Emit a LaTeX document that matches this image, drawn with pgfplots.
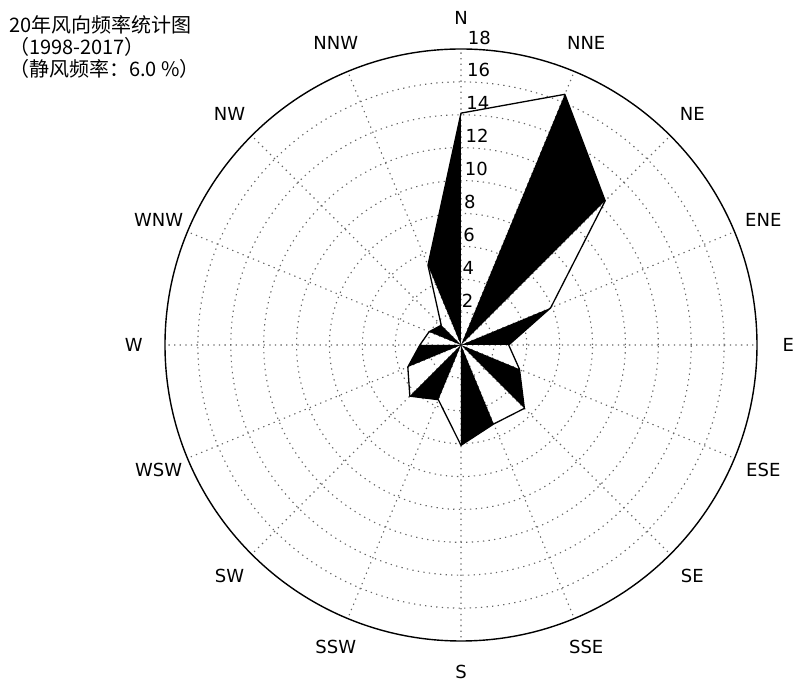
\documentclass[border=0pt]{standalone}
\usepackage{fontspec}
\setmainfont{DejaVu Sans}
\newfontfamily\cjk{Noto Sans CJK SC}
\usepackage{pgfplots}
\pgfplotsset{compat=1.18}
\usepgfplotslibrary{polar}

% wind direction frequency (%), angle measured counter-clockwise from east
\pgfplotstableread{
ang   r
90    14.1
67.5  16.5
45    12.4
22.5  5.9
0     2.9
337.5 3.85
315   5.45
292.5 5.2
270   6.1
247.5 3.6
225   4.4
202.5 3.5
180   2.5
157.5 2.1
135   1.7
112.5 5.25
}\rose

\begin{document}
\begin{tikzpicture}
\begin{polaraxis}[
  scale only axis, width=592pt, height=592pt,
  xmin=0, xmax=360, ymin=0, ymax=18,
  xtick={0,22.5,...,337.5}, ytick={2,4,...,16},
  xticklabels={}, yticklabels={},
  grid=major,
  major grid style={black!60, line width=1.1pt, dash pattern=on 1.3pt off 4.3pt},
  major tick length=0pt,
  x axis line style={line width=1.4pt},
  y axis line style={draw=none},
  clip=false,
]
\coordinate (c) at (axis cs:0,0);
% alternating black sectors
\addplot[fill=black, draw=none] coordinates {(0,0) (67.5,16.5) (45,12.4)} -- cycle;
\addplot[fill=black, draw=none] coordinates {(0,0) (22.5,5.9) (0,2.9)} -- cycle;
\addplot[fill=black, draw=none] coordinates {(0,0) (337.5,3.85) (315,5.45)} -- cycle;
\addplot[fill=black, draw=none] coordinates {(0,0) (292.5,5.2) (270,6.1)} -- cycle;
\addplot[fill=black, draw=none] coordinates {(0,0) (247.5,3.6) (225,4.4)} -- cycle;
\addplot[fill=black, draw=none] coordinates {(0,0) (202.5,3.5) (180,2.5)} -- cycle;
\addplot[fill=black, draw=none] coordinates {(0,0) (157.5,2.1) (135,1.7)} -- cycle;
\addplot[fill=black, draw=none] coordinates {(0,0) (112.5,5.25) (90,14.1)} -- cycle;
% outline of the rose
\addplot[black, line width=1.3pt, line join=round] table[x=ang, y=r] {\rose} -- cycle;

% compass labels
\begin{scope}[every node/.style={font=\fontsize{18}{20}\selectfont, inner sep=0pt}]
\node at (axis cs:90,19.9) {N};
\node at (axis cs:67.5,19.9) {NNE};
\node at (axis cs:45,19.9) {NE};
\node at (axis cs:22.5,19.9) {ENE};
\node at (axis cs:0,19.9) {E};
\node at (axis cs:337.5,19.9) {ESE};
\node at (axis cs:315,19.9) {SE};
\node at (axis cs:292.5,19.9) {SSE};
\node at (axis cs:270,19.9) {S};
\node at (axis cs:247.5,19.9) {SSW};
\node at (axis cs:225,19.9) {SW};
\node at (axis cs:202.5,19.9) {WSW};
\node at (axis cs:180,19.9) {W};
\node at (axis cs:157.5,19.9) {WNW};
\node at (axis cs:135,19.9) {NW};
\node at (axis cs:112.5,19.9) {NNW};
\end{scope}
% radial labels
\begin{scope}[every node/.style={font=\fontsize{18}{20}\selectfont, inner sep=0pt, anchor=base west, yshift=5pt}]
\node at (axis cs:88.7,2) {2};
\node at (axis cs:88.7,4) {4};
\node at (axis cs:88.7,6) {6};
\node at (axis cs:88.7,8) {8};
\node at (axis cs:88.7,10) {10};
\node at (axis cs:88.7,12) {12};
\node at (axis cs:88.7,14) {14};
\node at (axis cs:88.7,16) {16};
\node at (axis cs:88.7,18) {18};
\end{scope}
\end{polaraxis}
\node[anchor=north west, inner sep=0pt, align=left,
      font=\cjk\fontsize{20}{22}\selectfont] at ([shift={(-452pt,330pt)}]c)
  {20年风向频率统计图\\（1998-2017）\\（静风频率：6.0 \%）};
\pgfresetboundingbox
\path ([shift={(-461pt,345pt)}]c) rectangle ([shift={(335pt,-339pt)}]c);
\end{tikzpicture}
\end{document}
